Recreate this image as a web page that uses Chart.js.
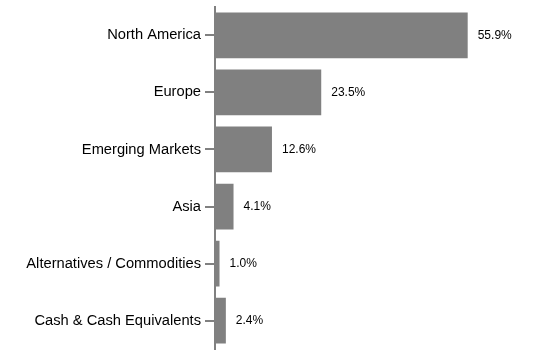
<!DOCTYPE html>
<html lang="en">
<head>
  <meta charset="UTF-8">
  <title>Regional Allocation</title>
  <script src="https://cdn.jsdelivr.net/npm/chart.js"></script>
  <style>
    html, body { margin: 0; padding: 0; background: #fff; overflow: hidden; }
    /* a bit taller than the window so the axis runs almost edge to edge */
    #wrap { width: 545px; height: 368px; margin-top: -6px; }
  </style>
</head>
<body>
  <div id="wrap"><canvas id="allocChart"></canvas></div>

  <script>
    // Regions and their share of the portfolio (%)
    const regions = ['North America', 'Europe', 'Emerging Markets', 'Asia', 'Alternatives / Commodities', 'Cash & Cash Equivalents'];
    const shares = [55.9, 23.5, 12.6, 4.1, 1.0, 2.4];

    // Draw the "xx.x%" text just past the end of each bar
    const valueLabels = {
      id: 'valueLabels',
      afterDatasetsDraw(chart) {
        const ctx = chart.ctx;
        const meta = chart.getDatasetMeta(0);
        ctx.save();
        ctx.font = '12px "Liberation Sans", Arial, sans-serif';
        ctx.fillStyle = '#000';
        ctx.textBaseline = 'middle';
        meta.data.forEach((bar, i) => {
          ctx.fillText(shares[i].toFixed(1) + '%', bar.x + 10, bar.y);
        });
        ctx.restore();
      }
    };

    const ctx = document.getElementById('allocChart').getContext('2d');
    new Chart(ctx, {
      type: 'bar',
      data: {
        labels: regions,
        datasets: [{
          data: shares,
          backgroundColor: '#808080',
          barPercentage: 0.89,
          categoryPercentage: 0.9
        }]
      },
      options: {
        indexAxis: 'y',
        responsive: true,
        maintainAspectRatio: false,
        animation: false,
        plugins: {
          legend: { display: false },
          tooltip: { enabled: false }
        },
        scales: {
          x: {
            display: false,
            min: 0,
            max: 73
          },
          y: {
            afterFit(scale) { scale.width = 215; },
            border: { color: '#808080', width: 2 },
            grid: {
              offset: false,
              drawOnChartArea: false,
              color: '#808080',
              lineWidth: 2,
              tickLength: 10
            },
            ticks: {
              color: '#000',
              padding: 4,
              font: { family: '"Liberation Sans", Arial, sans-serif', size: 14.7 }
            }
          }
        }
      },
      plugins: [valueLabels]
    });
  </script>
</body>
</html>
